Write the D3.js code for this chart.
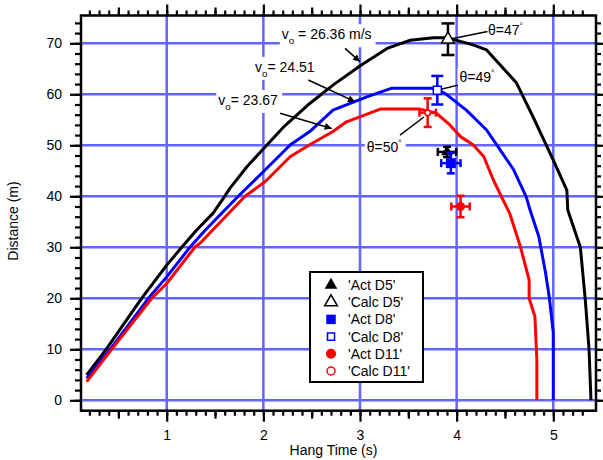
<!DOCTYPE html>
<html>
<head>
<meta charset="utf-8">
<script src="https://cdn.jsdelivr.net/npm/d3@7"></script>
<style>
  body { margin: 0; background: #fff; }
  svg text { font-family: "Liberation Sans", Arial, sans-serif; fill: #000; }
</style>
</head>
<body>
<svg id="chart" width="603" height="460"></svg>
<script>
// trajectory curves (hang time in s, distance in m)
const timeD5 = [0.172, 0.373, 0.74, 1.0, 1.155, 1.31, 1.48, 1.6, 1.655, 1.83, 2.02, 2.21, 2.48, 2.72, 3.01, 3.28, 3.52, 3.76, 3.9, 4.17, 4.31, 4.62, 4.79, 5.0, 5.14, 5.15, 5.28, 5.33, 5.37, 5.39];
const distD5 = [4.96, 10, 20, 26.5, 30, 33.4, 36.7, 40, 41.6, 45.8, 49.7, 53.6, 58.2, 61.8, 65.7, 69, 70.6, 71.1, 71.1, 69.7, 68.7, 62.2, 55.6, 47.1, 41.2, 37.3, 30, 20, 10, 0];

const timeD8 = [0.172, 0.414, 0.81, 1.0, 1.24, 1.4, 1.74, 2.02, 2.28, 2.48, 2.72, 3.07, 3.33, 3.74, 3.82, 3.9, 4.1, 4.31, 4.45, 4.59, 4.72, 4.76, 4.85, 4.92, 4.96, 5.0, 5.0];
const distD8 = [4.3, 10, 20, 24.2, 30, 33.4, 40, 45.2, 50.1, 52.7, 56.9, 59.5, 61.2, 61.2, 60.8, 59.9, 56.9, 53, 49.1, 45.2, 39.9, 37.3, 32.1, 25, 20, 13.3, 0];

const timeD11 = [0.172, 0.43, 0.845, 1.0, 1.29, 1.345, 1.81, 2.02, 2.28, 2.48, 2.72, 2.86, 3.21, 3.62, 3.79, 3.93, 4.04, 4.17, 4.28, 4.38, 4.48, 4.55, 4.66, 4.75, 4.75, 4.81, 4.83, 4.83];
const distD11 = [3.65, 10, 20, 22.9, 30, 30.8, 40, 42.9, 47.8, 50.1, 52.7, 54.6, 57.1, 57.1, 56.3, 54, 51.7, 50.1, 47.8, 43.2, 39.3, 36.6, 30.1, 23.6, 20, 16.4, 7.9, 0];

// measured / calculated landing points with error bars
const pointNames = ["'Act D5'", "'Calc D5'", "'Act D8'", "'Calc D8'", "'Act D11'", "'Calc D11'"];
const pointTime = [3.90, 3.91, 3.94, 3.80, 4.04, 3.70];
const pointDist = [48.7, 70.8, 46.5, 60.8, 38.0, 56.4];
const pointTimeErr = [0.095, 0, 0.10, 0, 0.095, 0.085];
const pointDistErr = [1.0, 3.1, 2.0, 2.8, 2.1, 2.8];

const xTickLabels = [1, 2, 3, 4, 5];
const yTickLabels = [0, 10, 20, 30, 40, 50, 60, 70];
const xMinorTicks = d3.range(2, 54).map(i => i / 10);
const xMidTicks = [0.5, 1.5, 2.5, 3.5, 4.5];
const yMinorTicks = d3.range(0, 75, 2);

const svg = d3.select("#chart");
const margin = {top: 15.5, right: 7, bottom: 49.3, left: 81};
const width = 603 - margin.left - margin.right;
const height = 460 - margin.top - margin.bottom;

const x = d3.scaleLinear().domain([0.113, 5.442]).range([0, width]);
const y = d3.scaleLinear().domain([-2.04, 75.45]).range([height, 0]);

const g = svg.append("g").attr("transform", `translate(${margin.left},${margin.top})`);

// grid
const gridColor = "#6464ff";
g.selectAll(".vgrid").data(xTickLabels).join("line").attr("class", "vgrid")
  .attr("x1", d => x(d)).attr("x2", d => x(d)).attr("y1", 0).attr("y2", height)
  .attr("stroke", gridColor).attr("stroke-width", 2.5);
g.selectAll(".hgrid").data(yTickLabels).join("line").attr("class", "hgrid")
  .attr("x1", 0).attr("x2", width).attr("y1", d => y(d)).attr("y2", d => y(d))
  .attr("stroke", gridColor).attr("stroke-width", 2.5);

// curves
const lineGen = d3.line().x(d => x(d[0])).y(d => y(d[1]));
const curves = [
  {t: timeD5, d: distD5, color: "#000"},
  {t: timeD8, d: distD8, color: "#0000ff"},
  {t: timeD11, d: distD11, color: "#ff0000"}
];
curves.forEach(c => {
  g.append("path").datum(d3.zip(c.t, c.d))
    .attr("d", lineGen).attr("fill", "none")
    .attr("stroke", c.color).attr("stroke-width", 3).attr("stroke-linejoin", "round");
});

// annotations (data coords)
const defs = svg.append("defs");
defs.append("marker").attr("id", "arr").attr("viewBox", "0 0 10 10")
  .attr("refX", 10).attr("refY", 5).attr("markerWidth", 11).attr("markerHeight", 7)
  .attr("markerUnits", "userSpaceOnUse").attr("orient", "auto")
  .append("path").attr("d", "M0,0L10,5L0,10z").attr("fill", "#000");

function label(parent, tx, ty, parts, size) {
  const t = parent.append("text").attr("x", x(tx)).attr("y", y(ty)).attr("font-size", size);
  parts.forEach(p => {
    const s = t.append("tspan").text(p.text);
    if (p.sub) s.attr("font-size", size * 0.7).attr("dy", 5);
    if (p.up) s.attr("dy", p.up);
    if (p.sup) s.attr("font-size", size * 0.6).attr("dy", -6);
  });
  return t;
}

const vLabels = [
  {t: 2.19, d: 70.8, val: " = 26.36 m/s", from: [2.845, 69.0], to: [3.0, 66.4]},
  {t: 1.914, d: 64.4, val: "= 24.51", from: [2.465, 62.8], to: [2.948, 58.55]},
  {t: 1.534, d: 57.9, val: "= 23.67", from: [2.172, 56.3], to: [2.707, 53.3]}
];
const thetaLabels = [
  {t: 4.324, d: 71.7, val: "θ=47", from: [4.32, 72.3], to: [3.95, 70.9]},
  {t: 4.03, d: 62.5, val: "θ=49", from: [4.014, 61.8], to: [3.838, 61.0]},
  {t: 3.07, d: 48.6, val: "θ=50", from: [3.414, 52.0], to: [3.662, 55.55]}
];

const ann = g.append("g");
vLabels.forEach(a => {
  const bg = ann.append("rect").attr("fill", "#fff");
  const t = label(ann, a.t, a.d, [{text: "v"}, {text: "o", sub: true}, {text: a.val, up: -5}], 14);
  const b = t.node().getBBox();
  bg.attr("x", b.x - 2).attr("y", b.y - 2).attr("width", b.width + 6).attr("height", b.height + 3);
  ann.append("line")
    .attr("x1", x(a.from[0])).attr("y1", y(a.from[1])).attr("x2", x(a.to[0])).attr("y2", y(a.to[1]))
    .attr("stroke", "#000").attr("stroke-width", 1.5).attr("marker-end", "url(#arr)");
});
thetaLabels.forEach(a => {
  const bg = ann.append("rect").attr("fill", "#fff");
  const t = label(ann, a.t, a.d, [{text: a.val}, {text: "°", sup: true}], 14);
  const b = t.node().getBBox();
  bg.attr("x", b.x - 2).attr("y", b.y).attr("width", b.width + 6).attr("height", b.height);
  ann.append("line")
    .attr("x1", x(a.from[0])).attr("y1", y(a.from[1])).attr("x2", x(a.to[0])).attr("y2", y(a.to[1]))
    .attr("stroke", "#000").attr("stroke-width", 1.5);
});

// points with error bars
const pointColor = ["#000", "#000", "#0000ff", "#0000ff", "#ff0000", "#ff0000"];
const pointShape = [d3.symbolTriangle, d3.symbolTriangle, d3.symbolSquare, d3.symbolSquare, d3.symbolCircle, d3.symbolCircle];
const pointFilled = [true, false, true, false, true, false];
const pointSize = [60, 70, 100, 64, 64, 24];
const pointCap = [4, 6.5, 4, 6, 4, 4];
const drawOrder = [0, 2, 4, 1, 3, 5];

drawOrder.forEach(i => {
  const px = x(pointTime[i]), py = y(pointDist[i]), c = pointColor[i], cap = pointCap[i];
  const eg = g.append("g").attr("stroke", c).attr("stroke-width", 2.5);
  if (pointDistErr[i] > 0) {
    const y1 = y(pointDist[i] - pointDistErr[i]), y2 = y(pointDist[i] + pointDistErr[i]);
    eg.append("line").attr("x1", px).attr("x2", px).attr("y1", y1).attr("y2", y2);
    eg.append("line").attr("x1", px - cap).attr("x2", px + cap).attr("y1", y1).attr("y2", y1);
    eg.append("line").attr("x1", px - cap).attr("x2", px + cap).attr("y1", y2).attr("y2", y2);
  }
  if (pointTimeErr[i] > 0) {
    const x1 = x(pointTime[i] - pointTimeErr[i]), x2 = x(pointTime[i] + pointTimeErr[i]);
    eg.append("line").attr("x1", x1).attr("x2", x2).attr("y1", py).attr("y2", py);
    eg.append("line").attr("x1", x1).attr("x2", x1).attr("y1", py - 4).attr("y2", py + 4);
    eg.append("line").attr("x1", x2).attr("x2", x2).attr("y1", py - 4).attr("y2", py + 4);
  }
  g.append("path")
    .attr("transform", `translate(${px},${py})`)
    .attr("d", d3.symbol().type(pointShape[i]).size(pointSize[i]))
    .attr("fill", pointFilled[i] ? c : "#fff")
    .attr("stroke", c).attr("stroke-width", pointFilled[i] ? 0 : 1.5);
});

// axes: minor / medium / major ticks on all four sides, labels bottom and left
function axisSet(make, tr, vals, size, labels) {
  const a = make(make === d3.axisBottom || make === d3.axisTop ? x : y)
    .tickValues(vals).tickSizeInner(size).tickSizeOuter(0);
  if (labels) a.tickPadding(8).tickFormat(d3.format("d"));
  else a.tickFormat(() => "");
  const ag = g.append("g").attr("transform", tr).call(a);
  ag.select(".domain").remove();
  ag.selectAll(".tick line").attr("stroke", "#000").attr("stroke-width", 2.2);
  ag.selectAll("text").attr("font-size", 14).attr("fill", "#000")
    .style("font-family", '"Liberation Sans", Arial, sans-serif');
}
axisSet(d3.axisBottom, `translate(0,${height})`, xMinorTicks, 5, false);
axisSet(d3.axisBottom, `translate(0,${height})`, xMidTicks, 8, false);
axisSet(d3.axisBottom, `translate(0,${height})`, xTickLabels, 11, true);
axisSet(d3.axisTop, "translate(0,0)", xMinorTicks, 5, false);
axisSet(d3.axisTop, "translate(0,0)", xMidTicks, 8, false);
axisSet(d3.axisTop, "translate(0,0)", xTickLabels, 11, false);
axisSet(d3.axisLeft, "translate(0,0)", yMinorTicks, 6, false);
axisSet(d3.axisLeft, "translate(0,0)", yTickLabels, 11, true);
axisSet(d3.axisRight, `translate(${width},0)`, yMinorTicks, 5, false);
axisSet(d3.axisRight, `translate(${width},0)`, yTickLabels, 9, false);

// frame
g.append("rect").attr("width", width).attr("height", height)
  .attr("fill", "none").attr("stroke", "#000").attr("stroke-width", 2.5);

// axis titles
svg.append("text").attr("x", margin.left + width / 2 - 5).attr("y", 455)
  .attr("text-anchor", "middle").attr("font-size", 14).text("Hang Time (s)");
svg.append("text").attr("transform", "translate(18,221) rotate(-90)")
  .attr("text-anchor", "middle").attr("font-size", 14).text("Distance (m)");

// legend
const lg = svg.append("g").attr("transform", "translate(310,272)");
lg.append("rect").attr("width", 113).attr("height", 110)
  .attr("fill", "#fff").attr("stroke", "#000").attr("stroke-width", 2);
const legendSize = [70, 70, 90, 50, 80, 50];
pointNames.forEach((name, i) => {
  const ly = 13 + i * 17.2;
  lg.append("path").attr("transform", `translate(21,${ly})`)
    .attr("d", d3.symbol().type(pointShape[i]).size(legendSize[i]))
    .attr("fill", pointFilled[i] ? pointColor[i] : "#fff")
    .attr("stroke", pointColor[i]).attr("stroke-width", pointFilled[i] ? 0 : 1.5);
  lg.append("text").attr("x", 38).attr("y", ly + 5).attr("font-size", 14).text(name);
});
</script>
</body>
</html>
